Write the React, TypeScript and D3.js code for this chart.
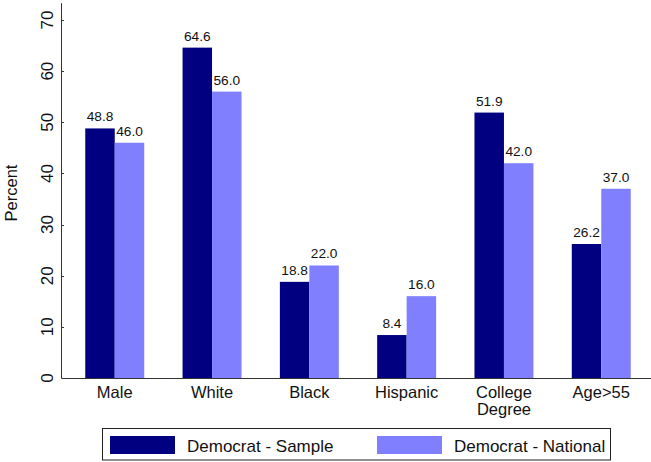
import React from "react";
import * as d3 from "d3";

const categories = ["Male", "White", "Black", "Hispanic", "College Degree", "Age>55"];
const categoryLines = [["Male"], ["White"], ["Black"], ["Hispanic"], ["College", "Degree"], ["Age>55"]];
const seriesNames = ["Democrat - Sample", "Democrat - National"];
const sampleValues = [48.8, 64.6, 18.8, 8.4, 51.9, 26.2];
const nationalValues = [46.0, 56.0, 22.0, 16.0, 42.0, 37.0];
const yTicks = [0, 10, 20, 30, 40, 50, 60, 70];
const colors = ["#000080", "#8080ff"];

const W = 651;
const H = 462;
const FONT = "'Liberation Sans', Arial, Helvetica, sans-serif";

export default function App() {
  const y = d3.scaleLinear().domain([0, 70]).range([378, 20]);
  const x = d3
    .scaleBand<string>()
    .domain(categories)
    .range([62, 654])
    .paddingInner(0.394)
    .paddingOuter(0.239);
  const sub = d3.scaleBand<string>().domain(seriesNames).range([0, x.bandwidth()]).padding(0);
  const series = [sampleValues, nationalValues];
  const yTop = y(73.3);

  return (
    <svg
      width={W}
      height={H}
      style={{ position: "absolute", left: 0, top: 0, background: "#fff" }}
      fontFamily={FONT}
    >
      <rect x={0} y={0} width={W} height={H} fill="#fff" />
      {categories.map((c, i) =>
        series.map((vals, s) => {
          const bx = (x(c) as number) + (sub(seriesNames[s]) as number);
          const bw = sub.bandwidth();
          const v = vals[i];
          return (
            <g key={c + s}>
              <rect x={bx} y={y(v)} width={bw} height={y(0) - y(v)} fill={colors[s]} />
              <text
                x={bx + bw / 2}
                y={y(v) - 7}
                textAnchor="middle"
                fontSize={13.7}
                fill="#111"
              >
                {v.toFixed(1)}
              </text>
            </g>
          );
        })
      )}
      {/* y axis */}
      <line x1={61.5} x2={61.5} y1={yTop} y2={378.5} stroke="#333" strokeWidth={1} />
      {yTicks.map((t) => (
        <g key={t}>
          <line x1={62} x2={64} y1={Math.round(y(t)) + 0.5} y2={Math.round(y(t)) + 0.5} stroke="#333" />
          <text
            transform={`translate(53,${y(t)}) rotate(-90)`}
            textAnchor="middle"
            fontSize={17}
            fill="#111"
          >
            {t}
          </text>
        </g>
      ))}
      <text
        transform={`translate(17,${193}) rotate(-90)`}
        textAnchor="middle"
        fontSize={16.5}
        fill="#111"
      >
        Percent
      </text>
      {/* x axis */}
      <line x1={61.5} x2={W} y1={378.5} y2={378.5} stroke="#333" strokeWidth={1} />
      {categories.map((c, i) => (
        <text
          key={c}
          x={(x(c) as number) + x.bandwidth() / 2}
          y={398}
          textAnchor="middle"
          fontSize={16.5}
          fill="#111"
        >
          {categoryLines[i].map((ln, k) => (
            <tspan key={k} x={(x(c) as number) + x.bandwidth() / 2} dy={k === 0 ? 0 : 16.5}>
              {ln}
            </tspan>
          ))}
        </text>
      ))}
      {/* legend */}
      <rect x={102.5} y={428.5} width={508} height={31.5} fill="#fff" stroke="#222" strokeWidth={1} />
      {seriesNames.map((s, i) => {
        const lx = i === 0 ? 110 : 377;
        return (
          <g key={s}>
            <rect x={lx} y={436} width={65} height={18} fill={colors[i]} />
            <text x={lx + 77} y={452} fontSize={17} fill="#111">
              {s}
            </text>
          </g>
        );
      })}
    </svg>
  );
}
